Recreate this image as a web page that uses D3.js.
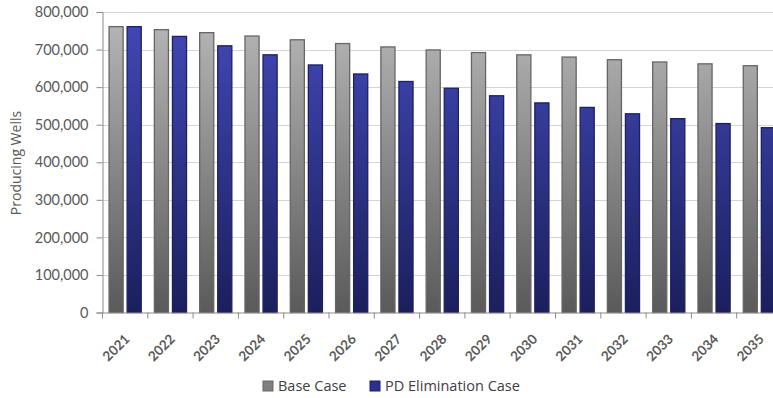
<!DOCTYPE html>
<html>
<head>
<meta charset="utf-8">
<script src="https://cdn.jsdelivr.net/npm/d3@7"></script>
<style>
  body { margin: 0; background: #fff; }
  svg { display: block; }
</style>
</head>
<body>
<svg id="chart" width="773" height="398"></svg>
<script>
// Producing wells, base case vs PD elimination case
const years = ['2021', '2022', '2023', '2024', '2025', '2026', '2027', '2028',
  '2029', '2030', '2031', '2032', '2033', '2034', '2035'];
const baseCase = [761000, 753000, 745000, 736000, 726000, 716000, 707000, 699000,
  692000, 686000, 680000, 673000, 667000, 662000, 657000];
const pdCase = [761000, 735000, 710000, 686000, 659000, 635000, 615000, 597000,
  577000, 558000, 546000, 529000, 516000, 503000, 492000];
const yTicks = [0, 100000, 200000, 300000, 400000, 500000, 600000, 700000, 800000];
const seriesNames = ['Base Case', 'PD Elimination Case'];

const svg = d3.select('#chart');
const W = 773;
const padding = { top: 12, left: 102.5, bottom: 85.5 };
const plotH = 398 - padding.top - padding.bottom;
const step = 45.3;

const x0 = d3.scaleBand()
  .domain(years)
  .range([padding.left, padding.left + step * years.length])
  .paddingInner(0.29)
  .paddingOuter(0.145);
const x1 = d3.scaleBand()
  .domain(['base', 'pd'])
  .range([0, x0.bandwidth()])
  .paddingInner(0.22);
const y = d3.scaleLinear().domain([0, 800000]).range([padding.top + plotH, padding.top]);

// gradients
const defs = svg.append('defs');
function grad(id, top, bottom) {
  const g = defs.append('linearGradient').attr('id', id)
    .attr('gradientUnits', 'userSpaceOnUse')
    .attr('x1', 0).attr('x2', 0)
    .attr('y1', y(800000)).attr('y2', y(0));
  g.append('stop').attr('offset', '0%').attr('stop-color', top);
  g.append('stop').attr('offset', '100%').attr('stop-color', bottom);
}
grad('gGrey', '#b8b8b8', '#5a5a5a');
grad('gBlue', '#4249b8', '#1b1f5c');

const colors = {
  base: { fill: 'url(#gGrey)', stroke: '#666666', swatch: '#7f7f7f' },
  pd: { fill: 'url(#gBlue)', stroke: '#1c2064', swatch: '#2b3191' },
};

// gridlines
svg.append('g').selectAll('line')
  .data(yTicks.filter(d => d > 0))
  .join('line')
  .attr('x1', padding.left).attr('x2', W)
  .attr('y1', d => Math.round(y(d)) + 0.5).attr('y2', d => Math.round(y(d)) + 0.5)
  .attr('stroke', '#d4d4d4').attr('stroke-width', 1.2);

// y axis
const yAxis = svg.append('g')
  .attr('transform', `translate(${padding.left},0)`)
  .call(d3.axisLeft(y).tickValues(yTicks).tickSize(6).tickPadding(8)
    .tickFormat(d3.format(',')));
yAxis.select('.domain').attr('stroke', '#8c8c8c');
yAxis.selectAll('.tick line').attr('stroke', '#8c8c8c');
yAxis.selectAll('.tick text')
  .attr('fill', '#595959')
  .style('font-family', 'Lato, sans-serif')
  .style('font-size', '14.5px');

// bars
const groups = svg.append('g').selectAll('g')
  .data(years.map((yr, i) => ({ yr, vals: [
    { key: 'base', v: baseCase[i] }, { key: 'pd', v: pdCase[i] }] })))
  .join('g')
  .attr('transform', d => `translate(${x0(d.yr)},0)`);
groups.selectAll('rect')
  .data(d => d.vals)
  .join('rect')
  .attr('x', d => x1(d.key))
  .attr('width', x1.bandwidth())
  .attr('y', d => y(d.v))
  .attr('height', d => y(0) - y(d.v))
  .attr('fill', d => colors[d.key].fill)
  .attr('stroke', d => colors[d.key].stroke)
  .attr('stroke-width', 1.3);

// x axis
const xa = svg.append('g');
xa.append('line')
  .attr('x1', padding.left).attr('x2', W)
  .attr('y1', y(0) + 0.5).attr('y2', y(0) + 0.5)
  .attr('stroke', '#8c8c8c');
xa.selectAll('line.tk')
  .data(years)
  .join('line')
  .attr('class', 'tk')
  .attr('x1', d => x0(d) - x0.step() * x0.paddingOuter())
  .attr('x2', d => x0(d) - x0.step() * x0.paddingOuter())
  .attr('y1', y(0)).attr('y2', y(0) + 6)
  .attr('stroke', '#8c8c8c');
xa.selectAll('text')
  .data(years)
  .join('text')
  .attr('transform', d => `translate(${x0(d) + x0.bandwidth() / 2 + 2},${y(0) + 24}) rotate(-45)`)
  .attr('text-anchor', 'end')
  .attr('dy', '0.35em')
  .attr('fill', '#595959')
  .style('font-family', 'Lato, sans-serif')
  .style('font-size', '13.5px')
  .style('font-weight', 'bold')
  .text(d => d);

// y title
svg.append('text')
  .attr('transform', 'translate(21,163) rotate(-90)')
  .attr('text-anchor', 'middle')
  .attr('fill', '#595959')
  .style('font-family', '"Open Sans", sans-serif')
  .style('font-size', '14px')
  .text('Producing Wells');

// legend
const legend = svg.append('g').attr('transform', 'translate(263,386)');
const items = [{ key: 'base', x: 0 }, { key: 'pd', x: 107 }];
items.forEach((it, i) => {
  const g = legend.append('g').attr('transform', `translate(${it.x},0)`);
  g.append('rect')
    .attr('x', 0).attr('y', -5).attr('width', 10).attr('height', 10)
    .attr('fill', colors[it.key].swatch)
    .attr('stroke', colors[it.key].stroke);
  g.append('text')
    .attr('x', 15).attr('dy', '0.35em')
    .attr('fill', '#404040')
    .style('font-family', '"Open Sans", sans-serif')
    .style('font-size', '14.5px')
    .text(seriesNames[i]);
});
</script>
</body>
</html>
